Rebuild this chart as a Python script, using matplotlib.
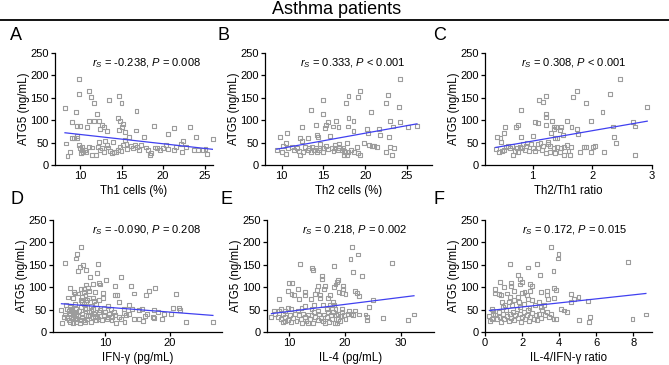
import matplotlib
matplotlib.use('Agg')
import matplotlib.pyplot as plt
import numpy as np

plt.rcParams['font.family'] = 'Liberation Sans'
plt.rcParams['mathtext.fontset'] = 'custom'
plt.rcParams['mathtext.rm'] = 'Liberation Sans'
plt.rcParams['mathtext.it'] = 'Liberation Sans:italic'

# ---- data (x, ATG5) ----
th1_x = [8.2, 9.9, 9.9, 11.1, 11.3, 11.7, 13.5, 14.7, 15.0, 16.8, 9.5, 9.1, 12.1, 10.0, 9.6, 10.9,
         11.1, 11.7, 12.3, 12.7, 12.9, 13.2, 12.4, 14.6, 14.8, 14.7, 15.1, 15.2, 15.4, 16.7, 18.9,
         20.6, 21.3, 23.2, 24.0, 26.0, 8.3, 8.8, 8.5, 9.0, 9.3, 9.6, 9.6, 9.9, 10.0, 10.2, 10.4,
         10.6, 10.3, 10.1, 10.7, 11.1, 11.5, 11.5, 11.9, 12.2, 12.3, 12.4, 12.7, 12.9, 13.0, 13.2,
         13.4, 13.6, 13.8, 14.0, 14.1, 14.3, 14.6, 14.8, 15.0, 15.2, 15.4, 15.6, 15.7, 15.9, 16.1,
         16.4, 16.6, 16.9, 17.1, 17.3, 17.7, 17.9, 18.2, 18.4, 18.6, 19.0, 19.3, 19.6, 20.0, 20.4,
         20.6, 21.3, 21.5, 22.2, 22.3, 22.4, 22.8, 23.7, 24.2, 24.8, 25.3, 25.1]
th1_y = [128, 192, 158, 166, 151, 138, 145, 154, 139, 121, 119, 95, 113, 87, 87, 84,
         98, 98, 98, 90, 84, 75, 80, 104, 98, 78, 84, 92, 73, 77, 88,
         69, 82, 84, 63, 57, 48, 30, 21, 60, 60, 65, 60, 45, 37, 34, 30,
         34, 41, 26, 28, 41, 39, 22, 22, 41, 52, 34, 37, 30, 54, 45,
         39, 31, 26, 52, 30, 28, 34, 41, 31, 45, 56, 47, 35, 63, 43,
         37, 45, 41, 34, 45, 62, 39, 34, 22, 26, 39, 37, 34, 37, 44,
         36, 34, 40, 46, 28, 53, 40, 34, 34, 34, 24, 36]

th2_x = [24.2, 19.4, 18.0, 19.1, 15.0, 22.7, 17.7, 22.5, 13.5, 24.0, 14.9, 20.7, 18.0, 18.6, 23.0,
         24.2, 15.5, 16.5, 14.1, 15.3, 12.4, 16.1, 16.8, 17.9, 15.2, 20.2, 21.6, 25.1, 26.2, 23.3,
         18.6, 20.3, 21.8, 9.8, 10.6, 14.2, 14.4, 15.8, 22.8, 10.5, 12.2, 12.4, 13.1, 14.6, 17.8,
         19.0, 19.9, 20.5, 20.8, 21.1, 21.4, 23.0, 23.4, 22.5, 23.2, 9.4, 10.0, 10.2, 10.5, 10.8,
         11.2, 11.5, 11.8, 12.1, 12.2, 12.6, 12.8, 13.1, 13.3, 13.6, 13.5, 13.9, 14.1, 14.2, 14.5,
         14.6, 14.9, 15.0, 15.3, 15.6, 16.0, 16.2, 16.4, 16.7, 16.9, 17.2, 16.4, 16.9, 17.4, 17.5,
         17.6, 17.8, 18.0, 18.3, 18.7, 19.1, 19.4, 17.5]
th2_y = [192, 166, 154, 151, 145, 157, 139, 138, 122, 129, 113, 119, 104, 99, 99,
         95, 95, 98, 89, 90, 84, 86, 84, 86, 82, 80, 80, 84, 87, 86,
         76, 72, 67, 63, 71, 66, 62, 65, 62, 50, 60, 54, 60, 47, 50,
         40, 50, 45, 43, 43, 40, 40, 38, 28, 22, 34, 28, 43, 24, 37,
         41, 34, 37, 31, 23, 30, 41, 34, 37, 41, 28, 34, 39, 28, 34,
         38, 37, 29, 43, 35, 37, 32, 37, 34, 37, 34, 45, 48, 38, 32,
         28, 22, 28, 34, 30, 26, 22, 22]

ratio_x = [2.46, 1.74, 1.68, 1.22, 2.30, 1.11, 1.90, 1.18, 0.80, 2.17, 2.92, 1.22, 1.23, 1.58, 1.33,
           1.97, 2.68, 1.04, 1.09, 1.22, 0.76, 0.72, 0.54, 1.35, 1.39, 1.48, 1.65, 2.35, 2.71, 1.35,
           1.45, 1.75, 1.76, 1.31, 0.52, 0.40, 0.46, 0.47, 0.81, 1.00, 1.37, 1.41, 1.51, 2.37, 2.40,
           0.38, 0.43, 0.48, 0.52, 0.55, 0.59, 0.62, 0.65, 0.67, 0.70, 0.73, 0.76, 0.79, 0.82, 0.84,
           0.87, 0.89, 0.91, 0.93, 0.97, 1.00, 1.04, 1.08, 1.09, 1.13, 1.15, 1.18, 1.22, 1.25, 1.26,
           1.29, 1.29, 1.35, 1.37, 1.41, 1.45, 1.48, 1.52, 1.52, 1.58, 1.60, 1.62, 1.64, 1.79, 1.86,
           1.89, 1.97, 2.01, 2.04, 2.19, 2.72]
ratio_y = [192, 166, 151, 154, 158, 145, 138, 140, 122, 119, 129, 113, 107, 99, 98,
           99, 95, 95, 93, 89, 90, 84, 84, 86, 84, 84, 84, 86, 86, 80,
           78, 80, 69, 72, 71, 63, 60, 52, 63, 65, 60, 60, 66, 62, 50,
           35, 28, 32, 34, 41, 43, 37, 43, 22, 32, 37, 30, 41, 37, 47,
           34, 43, 50, 32, 47, 37, 32, 47, 37, 50, 34, 43, 26, 52, 47,
           43, 30, 37, 26, 41, 30, 37, 41, 22, 45, 32, 22, 41, 30, 41,
           40, 30, 40, 43, 28, 22]

ifng_x = [6.26, 5.74, 5.6, 3.85, 6.67, 8.9, 6.15, 7.1, 5.9, 10.1, 12.5, 8.7, 7.7, 9.1, 9.2, 4.6,
          6.3, 7.4, 8.1, 11.6, 14.0, 17.7, 20.9, 16.7, 5.3, 6.8, 5.4, 7.0, 7.6, 8.4, 9.7, 11.5,
          11.9, 14.4, 16.3, 4.3, 5.1, 6.3, 7.3, 4.0, 4.1, 4.6, 4.7, 3.3, 3.4, 4.2, 3.9, 5.4,
          6.4, 7.1, 8.6, 9.1, 9.7, 10.4, 12.1, 12.9, 13.7, 14.2, 15.2, 15.7, 16.5, 17.5, 18.2,
          19.1, 20.1, 20.4, 21.4, 21.6, 17.5, 17.4, 18.7, 22.4, 26.6, 14.5, 15.3, 15.8, 16.1, 13.0,
          11.7, 12.2, 12.9, 13.2, 13.7, 11.4, 11.1, 10.6, 10.3, 9.8, 9.6, 9.1, 8.8, 8.6, 8.3,
          8.1, 7.8, 7.5, 7.3, 7.1, 6.9, 6.8, 6.5, 6.4, 6.3, 6.1, 6.0, 5.9, 5.7, 5.6, 5.5,
          5.4, 5.2, 5.1, 5.0, 4.9, 4.7, 4.6, 4.5, 4.4, 7.0, 7.8, 8.1, 8.7, 9.3, 9.8, 10.9,
          7.4, 7.9, 8.5, 9.0, 9.3, 10.0, 10.5, 11.0, 11.5, 12.4, 6.8, 6.5, 7.5, 8.3, 5.9,
          6.8, 7.1, 8.2, 6.1, 6.9, 5.6, 5.1, 3.7, 4.6]
ifng_y = [190, 175, 164, 155, 149, 151, 145, 138, 136, 117, 123, 132, 123, 110, 106, 98,
          97, 98, 107, 103, 103, 98, 85, 92, 90, 90, 86, 82, 91, 90, 88, 82,
          82, 86, 82, 77, 75, 71, 71, 61, 51, 56, 49, 49, 21, 31, 39, 63,
          66, 67, 63, 71, 75, 58, 67, 52, 60, 52, 49, 51, 41, 49, 45,
          41, 41, 54, 54, 50, 31, 34, 28, 22, 22, 30, 30, 24, 35, 22,
          21, 34, 43, 37, 41, 45, 34, 41, 30, 37, 26, 45, 34, 26, 41,
          34, 22, 45, 30, 37, 51, 26, 41, 34, 56, 26, 46, 36, 30, 41, 52,
          31, 45, 37, 28, 51, 34, 41, 26, 46, 54, 58, 51, 54, 49, 54, 52,
          36, 46, 36, 30, 36, 45, 34, 26, 37, 30, 63, 78, 75, 69, 86,
          97, 106, 75, 21, 22, 22, 21, 34, 22]

il4_x = [21.2, 22.4, 21.0, 28.4, 11.9, 14.1, 14.2, 18.0, 21.4, 23.0, 15.8, 15.8, 18.7, 18.5, 10.0,
         10.5, 16.5, 15.2, 18.3, 18.1, 19.7, 19.6, 18.9, 16.2, 14.9, 11.6, 12.8, 14.6, 21.8, 22.1,
         9.7, 10.9, 10.4, 12.8, 15.5, 17.3, 19.4, 20.1, 22.5, 8.1, 11.7, 13.9, 15.6, 17.0, 17.9,
         18.1, 25.1, 9.7, 12.9, 14.5, 16.1, 17.3, 24.3, 7.2, 7.5, 8.2, 8.8, 9.2, 6.8, 7.9,
         8.5, 8.9, 9.3, 9.7, 10.1, 10.3, 10.7, 11.0, 11.3, 11.7, 12.1, 12.3, 12.5, 12.8, 13.1,
         13.4, 13.7, 14.0, 14.3, 14.5, 14.7, 15.1, 15.3, 15.7, 16.1, 16.3, 16.7, 17.0, 17.1, 17.5,
         17.7, 17.9, 18.2, 18.4, 18.7, 18.8, 19.1, 19.3, 19.5, 19.9, 20.1, 20.5, 20.7, 21.1, 21.5,
         21.8, 22.5, 23.7, 23.9, 23.9, 26.8, 31.4, 32.4, 8.5, 10.3, 11.5, 12.2, 14.0, 15.2, 16.7,
         17.6, 18.3, 19.4, 9.3, 13.4, 18.5, 16.4]
il4_y = [189, 173, 162, 155, 151, 143, 138, 148, 134, 125, 126, 118, 116, 112, 110,
         110, 103, 103, 106, 101, 103, 95, 90, 95, 93, 95, 90, 85, 91, 88,
         91, 82, 84, 82, 82, 82, 88, 84, 81, 73, 73, 73, 75, 75, 66,
         61, 72, 54, 58, 61, 60, 60, 56, 48, 41, 48, 41, 46, 34, 34,
         30, 22, 34, 26, 37, 22, 31, 41, 24, 37, 30, 21, 41, 34, 24,
         39, 28, 37, 21, 45, 34, 26, 39, 31, 24, 39, 34, 45, 22, 37,
         28, 45, 21, 37, 28, 41, 24, 36, 45, 37, 28, 41, 46, 41, 37,
         48, 39, 39, 34, 26, 31, 26, 39, 52, 52, 48, 54, 51, 48, 52,
         54, 51, 52, 24, 21, 19, 21]

il4ifng_x = [3.55, 3.96, 3.95, 1.36, 2.78, 2.31, 3.69, 7.7, 1.76, 2.95, 1.87, 0.82, 1.4, 2.0, 2.45,
             2.55, 1.91, 0.55, 3.73, 3.82, 1.04, 1.4, 1.58, 2.0, 2.13, 2.45, 3.0, 3.33, 4.64, 5.04,
             4.78, 0.55, 0.73, 0.85, 1.18, 1.36, 1.76, 2.24, 3.36, 3.4, 3.73, 5.55, 0.36, 0.42, 0.91,
             1.09, 1.27, 1.55, 1.82, 2.09, 2.31, 2.55, 2.69, 2.91, 3.18, 4.09, 4.24, 4.42, 4.64, 0.27,
             0.45, 0.55, 0.64, 0.73, 0.78, 0.85, 0.96, 1.04, 1.15, 1.18, 1.27, 1.33, 1.4, 1.51, 1.58,
             1.64, 1.73, 1.76, 1.87, 1.95, 2.0, 2.09, 2.18, 2.24, 2.31, 2.36, 2.45, 2.55, 2.64, 2.73,
             2.82, 2.91, 3.0, 3.09, 3.22, 3.33, 3.45, 3.55, 3.69, 3.82, 0.96, 1.45, 1.91, 2.4, 3.0,
             5.05, 5.64, 5.58, 7.95, 8.67, 0.24, 0.36, 0.45]
il4ifng_y = [190, 175, 164, 151, 151, 144, 137, 157, 127, 127, 118, 112, 110, 112, 107,
             103, 106, 96, 98, 93, 101, 102, 91, 88, 90, 91, 90, 91, 84, 78,
             73, 86, 84, 82, 86, 78, 78, 82, 82, 73, 75, 69, 52, 46, 66,
             61, 67, 71, 66, 63, 73, 71, 60, 67, 61, 52, 48, 45, 66, 24,
             31, 39, 28, 45, 34, 22, 41, 30, 49, 36, 24, 41, 31, 45, 26,
             37, 51, 31, 41, 22, 34, 45, 28, 37, 49, 24, 34, 43, 30, 37,
             26, 41, 31, 49, 37, 45, 34, 41, 30, 28, 56, 60, 56, 54, 56,
             26, 34, 22, 28, 39, 36, 28, 41]

# regression lines (intercept, slope)
fits = [(89.0, -2.08), (3.6, 3.37), (30.4, 23.1), (66.8, -1.12), (30.4, 1.56), (46.9, 4.51)]
stats = ['$r_S$ = -0.238, $P$ = 0.008', '$r_S$ = 0.333, $P$ < 0.001', '$r_S$ = 0.308, $P$ < 0.001',
         '$r_S$ = -0.090, $P$ = 0.208', '$r_S$ = 0.218, $P$ = 0.002', '$r_S$ = 0.172, $P$ = 0.015']
xlabels = ['Th1 cells (%)', 'Th2 cells (%)', 'Th2/Th1 ratio',
           'IFN-γ (pg/mL)', 'IL-4 (pg/mL)', 'IL-4/IFN-γ ratio']
letters = ['A', 'B', 'C', 'D', 'E', 'F']
xlims = [(7, 26), (8, 28), (0.2, 3), (2, 28), (6, 36), (0, 9)]
xticks = [[10, 15, 20, 25], [10, 15, 20, 25], [1, 2, 3], [10, 20], [10, 20, 30], [0, 2, 4, 6, 8]]
series = [(th1_x, th1_y), (th2_x, th2_y), (ratio_x, ratio_y),
          (ifng_x, ifng_y), (il4_x, il4_y), (il4ifng_x, il4ifng_y)]

W, H = 669, 365
# axes boxes in pixels: left, right, top, bottom
boxes = [(55, 213, 53, 165), (265, 432, 53, 165), (485, 652, 53, 165),
         (53, 222, 220, 332), (267, 434, 220, 332), (485, 652, 220, 332)]
letter_pos = [(10, 35), (218, 35), (433, 35), (10, 200), (220, 200), (433, 200)]
text_cx = [147, 353, 574, 147, 355, 575]

fig = plt.figure(figsize=(W / 100, H / 100), dpi=100)

fig.text(337 / W, 1 - 9 / H, 'Asthma patients', ha='center', va='center', fontsize=13)
fig.add_artist(plt.Line2D([0, 1], [1 - 20 / H, 1 - 20 / H], color='black', lw=1.3,
                          transform=fig.transFigure))

for i in range(6):
    l, r, t, b = boxes[i]
    ax = fig.add_axes([l / W, 1 - b / H, (r - l) / W, (b - t) / H])
    x, y = series[i]
    ax.scatter(x, y, marker='s', s=8, facecolors='none', edgecolors='#9c9c9c', linewidths=0.8,
               zorder=2, clip_on=False)
    a, s = fits[i]
    xs = np.array([min(x), max(x)])
    ax.plot(xs, a + s * xs, color='#4040f0', lw=0.9, zorder=3)
    ax.set_xlim(*xlims[i])
    ax.set_ylim(0, 250)
    ax.set_xticks(xticks[i])
    ax.set_yticks([0, 50, 100, 150, 200, 250])
    ax.spines['top'].set_visible(False)
    ax.spines['right'].set_visible(False)
    for sp in ('left', 'bottom'):
        ax.spines[sp].set_linewidth(0.9)
    ax.tick_params(direction='out', length=3, width=0.9, labelsize=8, pad=1.5)
    ax.set_ylabel('ATG5 (ng/mL)', fontsize=8.3, labelpad=0)
    ax.set_xlabel(xlabels[i], fontsize=8.3, labelpad=3)
    ax.text((text_cx[i] - l) / (r - l), 228 / 250, stats[i], transform=ax.transAxes,
            fontsize=8, ha='center', va='center')
    lx, ly = letter_pos[i]
    fig.text(lx / W, 1 - ly / H, letters[i], fontsize=13, ha='left', va='center')

fig.savefig('out.png', dpi=100)
